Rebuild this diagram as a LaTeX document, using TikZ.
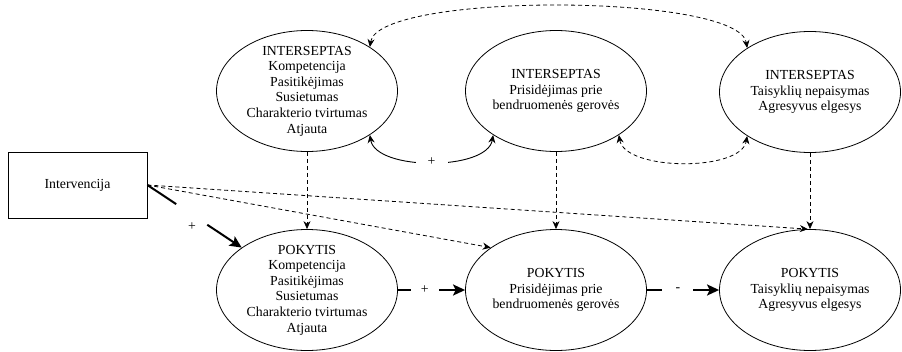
\documentclass[tikz,border=0pt]{standalone}
\usepackage{fontspec}
\setmainfont{Liberation Serif}
\usetikzlibrary{shapes.geometric,arrows.meta}
\begin{document}
\begin{tikzpicture}[x=1pt,y=-1pt,
  font=\fontsize{13.8pt}{15.6pt}\selectfont,
  oval/.style={draw, line width=0.8pt, ellipse, minimum width=181pt, minimum height=121pt, inner sep=0pt},
  txt/.style={align=center, inner sep=0pt},
  box/.style={draw, line width=0.8pt, minimum width=139pt, minimum height=66pt, inner sep=0pt},
  dashlink/.style={line width=0.8pt, dash pattern=on 4pt off 3pt, -{Stealth[length=8pt,width=7pt]}},
  twodash/.style={line width=0.8pt, dash pattern=on 4pt off 3pt, {Stealth[length=8pt,width=7pt]}-{Stealth[length=8pt,width=7pt]}},
  twosolid/.style={line width=0.9pt, {Stealth[length=8pt,width=7pt]}-{Stealth[length=8pt,width=7pt]}},
  strong/.style={line width=2pt, -{Stealth[length=12pt,width=11pt,inset=2.5pt]}},
  gap/.style={fill=white, inner sep=0pt, minimum height=8pt}
]
\useasboundingbox (0,0) rectangle (902,351);

% intervention box
\node[box] (int) at (77.5,185) {Intervencija};

% intercept ellipses (top row)
\node[oval] (e1) at (307,91) {};
\node[txt] (e1t) at (e1) {INTERSEPTAS\\Kompetencija\\Pasitikėjimas\\Susietumas\\Charakterio tvirtumas\\Atjauta};
\node[oval] (e2) at (556,91) {};
\node[txt] (e2t) at (e2) {INTERSEPTAS\\Prisidėjimas prie\\bendruomenės gerovės};
\node[oval] (e3) at (810,92) {};
\node[txt] (e3t) at (e3) {INTERSEPTAS\\Taisyklių nepaisymas\\Agresyvus elgesys};

% change ellipses (bottom row)
\node[oval] (b1) at (307,290) {};
\node[txt] (b1t) at (b1) {POKYTIS\\Kompetencija\\Pasitikėjimas\\Susietumas\\Charakterio tvirtumas\\Atjauta};
\node[oval] (b2) at (556,290) {};
\node[txt] (b2t) at (b2) {POKYTIS\\Prisidėjimas prie\\bendruomenės gerovės};
\node[oval] (b3) at (810,290) {};
\node[txt] (b3t) at (b3) {POKYTIS\\Taisyklių nepaisymas\\Agresyvus elgesys};

% intercepts to changes
\draw[dashlink] (e1.south) -- (b1.north);
\draw[dashlink] (e2.south) -- (b2.north);
\draw[dashlink] (e3.south) -- (b3.north);

% intervention effects
\draw[dashlink] (int.east) -- (b2.147);
\draw[dashlink] (int.east) -- (b3.92);
\draw[strong] (int.east) -- node[pos=0.47, sloped, gap, minimum width=37pt, minimum height=5pt] (g0) {} (b1.147);
\node (p0) at (192,227) {+};

% paths between changes
\draw[strong] (b1.east) -- node[pos=0.4, gap, minimum width=28pt] (g1) {+} (b2.west);
\draw[strong] (b2.east) -- node[pos=0.43, gap, minimum width=31pt] (g2) {-} (b3.west);

% correlations between intercepts
\draw[twosolid] (e1.-35) .. controls +(6,36) and +(-6,36) .. node[pos=0.5, gap, minimum width=32pt] (g3) {+} (e2.215);
\draw[twodash] (e2.-35) .. controls +(6,36) and +(-6,36) .. (e3.215);
\draw[twodash] (e1.35) .. controls +(8,-55) and +(-8,-55) .. (e3.145);
\end{tikzpicture}
\end{document}
